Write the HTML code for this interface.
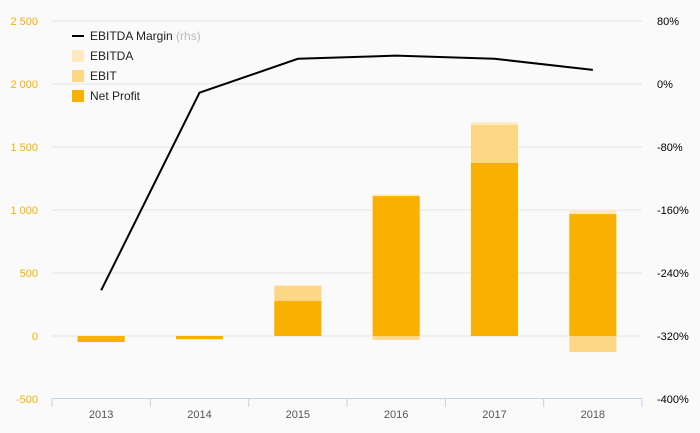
<!DOCTYPE html>
<html><head><meta charset="utf-8"><style>
body{margin:0;background:#fafafa;font-family:"Liberation Sans",sans-serif}
svg{display:block}
</style></head><body>
<svg id="c" width="700" height="433"></svg>
<script>
const years=["2013","2014","2015","2016","2017","2018"];
const ebitda=[-45,-25,405,1125,1698,1005];
const ebit=[-45,-25,395,-30,1675,-127];
const netProfit=[-48,-25,278,1110,1373,968];
const margin=[-262,-11,32,36,32,18];
const leftTicks=[-500,0,500,1000,1500,2000,2500];
const leftLabels=["-500","0","500","1 000","1 500","2 000","2 500"];
const rightTicks=[-400,-320,-240,-160,-80,0,80];
const rightLabels=["-400%","-320%","-240%","-160%","-80%","0%","80%"];
const NS="http://www.w3.org/2000/svg";
const svg=document.getElementById('c');
const x0=52,x1=642,bw=(x1-x0)/years.length;
const yL=v=>336-v*63/500;
const yR=v=>84-v*63/80;
const xc=i=>x0+bw*(i+0.5);
function el(t,a){const e=document.createElementNS(NS,t);for(const k in a)e.setAttribute(k,a[k]);svg.appendChild(e);return e;}
leftTicks.forEach((t,i)=>{
 if(t!==-500){const g=el('line',{x1:x0,x2:x1,y1:yL(t),y2:yL(t),stroke:'#e4e4e4','stroke-width':1});
 
 }
 const tx=el('text',{x:38,y:yL(t)+4,'text-anchor':'end','font-size':11,fill:'#f9b000'});
 tx.textContent=leftLabels[i];
 
 
});
rightTicks.forEach((t,i)=>{
 const tx=el('text',{x:657,y:yR(t)+4,'font-size':11,fill:'#000'});
 tx.textContent=rightLabels[i];
 
 
});
const ax=el('line',{x1:x0,x2:x1,y1:398.5,y2:398.5,stroke:'#c5d3ea'});


for(let i=0;i<=years.length;i++){
 const tk=el('line',{x1:x0+bw*i,x2:x0+bw*i,y1:398,y2:407,stroke:'#c5d3ea'});
 
 
}
function bars(arr,color,name){
 arr.forEach((v,i)=>{
  const y=Math.min(yL(v),yL(0)),h=Math.abs(yL(v)-yL(0));
  const r=el('rect',{x:xc(i)-23.5,y:y,width:47,height:h,fill:color});
  
  
 });
}
bars(ebitda,'#feeac0','ebitda');
bars(ebit,'#fdd686','ebit');
bars(netProfit,'#f9b000','net-profit');
years.forEach((yv,i)=>{
 const tx=el('text',{x:xc(i),y:418,'text-anchor':'middle','font-size':11,fill:'#555'});
 tx.textContent=yv;
 
 
});
const ln=el('polyline',{points:margin.map((v,i)=>xc(i)+','+yR(v)).join(' '),fill:'none',stroke:'#000','stroke-width':2});


const leg=[['line','EBITDA Margin','#000'],['rect','EBITDA','#feeac0'],['rect','EBIT','#fdd686'],['rect','Net Profit','#f9b000']];
leg.forEach((l,i)=>{
 const y=36+i*20;
 let m;
 if(l[0]==='line')m=el('line',{x1:72,x2:84,y1:y,y2:y,stroke:'#000','stroke-width':2});
 else m=el('rect',{x:72,y:y-6,width:12,height:12,fill:l[2]});
 
 
 const tx=el('text',{x:90,y:y+4,'font-size':12,fill:'#222'});
 tx.textContent=l[1];
 if(i===0){const s=document.createElementNS(NS,'tspan');s.setAttribute('fill','#bbb');s.textContent=' (rhs)';tx.appendChild(s);}
 
 
});
</script>
</body></html>
